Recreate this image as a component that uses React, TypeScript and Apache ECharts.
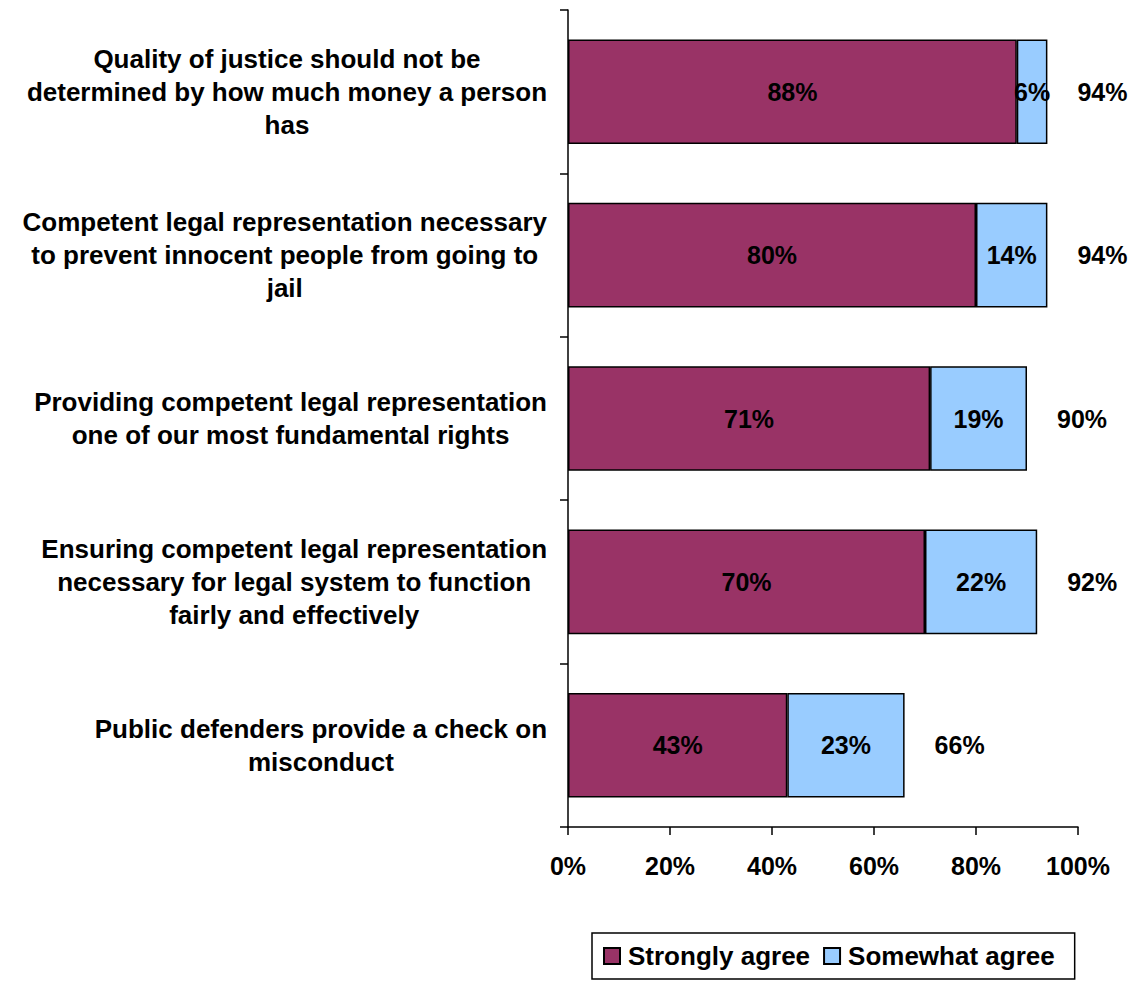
import React, { useEffect, useRef } from "react";
import * as echarts from "echarts";

const categories = [
  "Quality of justice should not be\ndetermined by how much money a person\nhas",
  "Competent legal representation necessary\nto prevent innocent people from going to\njail",
  "Providing competent legal representation\none of our most fundamental rights",
  "Ensuring competent legal representation\nnecessary for legal system to function\nfairly and effectively",
  "Public defenders provide a check on\nmisconduct",
];
const stronglyAgree = [88, 80, 71, 70, 43];
const somewhatAgree = [6, 14, 19, 22, 23];
const totals = [94, 94, 90, 92, 66];
const xTicks = [0, 20, 40, 60, 80, 100];

const FONT = "'Liberation Sans', Arial, sans-serif";

export default function App() {
  const ref = useRef<HTMLDivElement>(null);
  useEffect(() => {
    if (!ref.current) return;
    const chart = echarts.init(ref.current, undefined, { renderer: "svg" });
    const labelStyle = {
      show: true,
      color: "#000",
      fontWeight: "bold" as const,
      fontSize: 25,
      fontFamily: FONT,
      formatter: (p: any) => `${p.value}%`,
    };
    chart.setOption({
      animation: false,
      backgroundColor: "#fff",
      textStyle: { fontFamily: FONT },
      grid: { left: 568, right: 61, top: 10, bottom: 154, containLabel: false },
      legend: {
        data: ["Strongly agree", "Somewhat agree"],
        left: 592,
        top: 933,
        orient: "horizontal",
        borderColor: "#000",
        borderWidth: 1.5,
        padding: [10, 20, 10, 11],
        itemGap: 13,
        itemWidth: 16,
        itemHeight: 16,
        icon: "rect",
        textStyle: {
          fontWeight: "bold",
          fontSize: 26,
          color: "#000",
          fontFamily: FONT,
          padding: [0, 0, 0, 3],
        },
      },
      xAxis: {
        type: "value",
        min: 0,
        max: 100,
        interval: 20,
        axisLine: { show: true, lineStyle: { color: "#000", width: 1.5 } },
        axisTick: { show: true, length: 8, lineStyle: { color: "#000", width: 1.5 } },
        splitLine: { show: false },
        axisLabel: {
          margin: 26,
          color: "#000",
          fontWeight: "bold",
          fontSize: 25,
          fontFamily: FONT,
          formatter: (v: number) => (xTicks.includes(v) ? `${v}%` : ""),
        },
      },
      yAxis: {
        type: "category",
        inverse: true,
        data: categories,
        axisLine: { show: true, lineStyle: { color: "#000", width: 1.5 } },
        axisTick: { show: true, length: 8, lineStyle: { color: "#000", width: 1.5 } },
        axisLabel: {
          margin: 21,
          color: "#000",
          align: "right",
          formatter: (v: string) =>
            v
              .split("\n")
              .map((l) => `{c|${l}}`)
              .join("\n"),
          rich: {
            c: {
              align: "center",
              fontWeight: "bold",
              fontSize: 26,
              lineHeight: 33,
              fontFamily: FONT,
              color: "#000",
            },
          },
        },
      },
      series: [
        {
          name: "Strongly agree",
          type: "bar",
          stack: "total",
          barCategoryGap: "36%",
          data: stronglyAgree,
          itemStyle: { color: "#993366", borderColor: "#000", borderWidth: 1.5 },
          label: { ...labelStyle, position: "inside" },
        },
        {
          name: "Somewhat agree",
          type: "bar",
          stack: "total",
          data: somewhatAgree,
          itemStyle: { color: "#99CCFF", borderColor: "#000", borderWidth: 1.5 },
          label: { ...labelStyle, position: "inside" },
        },
        {
          name: "Total",
          type: "bar",
          barGap: "-100%",
          data: totals,
          z: 1,
          silent: true,
          itemStyle: { color: "rgba(0,0,0,0)" },
          label: { ...labelStyle, position: "right", distance: 30 },
        },
      ],
    });
    return () => chart.dispose();
  }, []);
  return (
    <div
      ref={ref}
      style={{ position: "fixed", left: 0, top: 0, width: 1139, height: 981 }}
    />
  );
}
